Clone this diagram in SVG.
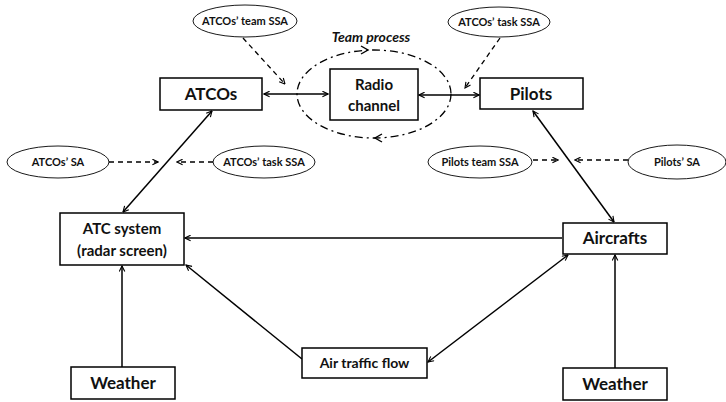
<svg xmlns="http://www.w3.org/2000/svg" width="726" height="402" viewBox="0 0 726 402">
<style>
.box{fill:#fff;stroke:#000;stroke-width:1.5}
.ell{fill:#fff;stroke:#000;stroke-width:0.9}
.t{font-family:Lato,"Open Sans","Liberation Sans",sans-serif;font-weight:bold;fill:#111;text-anchor:middle}
.big{font-size:17px}
.mid{font-size:15px}
.sm{font-size:11px}
.ln{stroke:#000;stroke-width:1.5;fill:none}
.dash{stroke:#000;stroke-width:1.3;fill:none;stroke-dasharray:5,4}
</style>
<defs>
<marker id="ah" viewBox="0 0 10 10" refX="9" refY="5" markerWidth="7" markerHeight="7" markerUnits="userSpaceOnUse" orient="auto-start-reverse">
<path d="M1,1 L9,5 L1,9" fill="none" stroke="#000" stroke-width="1.6"/>
</marker>
</defs>
<rect width="726" height="402" fill="#fff"/>
<g id="connectors">
<line class="ln" x1="264" y1="94" x2="328" y2="94" marker-start="url(#ah)" marker-end="url(#ah)"/>
<line class="ln" x1="419" y1="95" x2="479" y2="95" marker-start="url(#ah)" marker-end="url(#ah)"/>
<line class="ln" x1="212" y1="111" x2="123" y2="212" marker-start="url(#ah)" marker-end="url(#ah)"/>
<line class="ln" x1="533" y1="111" x2="614" y2="222" marker-start="url(#ah)" marker-end="url(#ah)"/>
<line class="ln" x1="562" y1="238" x2="185" y2="238" marker-end="url(#ah)"/>
<line class="ln" x1="122" y1="367" x2="122" y2="266" marker-end="url(#ah)"/>
<line class="ln" x1="615" y1="368" x2="615" y2="255" marker-end="url(#ah)"/>
<line class="ln" x1="302" y1="359" x2="186" y2="265" marker-end="url(#ah)"/>
<line class="ln" x1="428" y1="362" x2="568" y2="255" marker-start="url(#ah)" marker-end="url(#ah)"/>
<line class="dash" x1="243" y1="38" x2="285" y2="84" marker-end="url(#ah)"/>
<line class="dash" x1="500" y1="38" x2="465" y2="88" marker-end="url(#ah)"/>
<line class="dash" x1="109" y1="162" x2="158" y2="162" marker-end="url(#ah)"/>
<line class="dash" x1="213" y1="162" x2="177" y2="162" marker-end="url(#ah)"/>
<line class="dash" x1="533" y1="160" x2="558" y2="160" marker-end="url(#ah)"/>
<line class="dash" x1="628" y1="160" x2="575" y2="160" marker-end="url(#ah)"/>
</g>
<g id="team-process">
<ellipse cx="374" cy="94" rx="77" ry="44" fill="none" stroke="#000" stroke-width="1.3" stroke-dasharray="8,4,2,4"/>
<path d="M361,46 L368,50 L361,54" fill="none" stroke="#000" stroke-width="1.4"/>
<path d="M382,134 L375,138 L382,142" fill="none" stroke="#000" stroke-width="1.4"/>
<text x="371" y="42" class="t" font-size="14" font-style="italic">Team process</text>
</g>
<g id="atcos"><rect class="box" x="160" y="78" width="102" height="32"/><text x="211" y="100" class="t big">ATCOs</text></g>
<g id="radio"><rect class="box" x="330" y="69" width="88" height="51"/><text x="374" y="90" class="t mid">Radio</text><text x="374" y="111" class="t mid">channel</text></g>
<g id="pilots"><rect class="box" x="480" y="78" width="103" height="31"/><text x="531" y="100" class="t big">Pilots</text></g>
<g id="atc"><rect class="box" x="60" y="213" width="124" height="52"/><text x="122" y="234" class="t mid">ATC system</text><text x="122" y="256" class="t mid">(radar screen)</text></g>
<g id="aircrafts"><rect class="box" x="563" y="223" width="104" height="31"/><text x="615" y="244" class="t big">Aircrafts</text></g>
<g id="weather-left"><rect class="box" x="71" y="367" width="104" height="32"/><text x="123" y="389" class="t big">Weather</text></g>
<g id="weather-right"><rect class="box" x="563" y="368" width="104" height="32"/><text x="615" y="390" class="t big">Weather</text></g>
<g id="air-traffic"><rect class="box" x="302" y="348" width="125" height="30"/><text x="364.5" y="368" class="t" font-size="14">Air traffic flow</text></g>
<g id="atcos-team-ssa"><ellipse class="ell" cx="245" cy="21" rx="52" ry="16"/><text x="245" y="25" class="t sm">ATCOs’ team SSA</text></g>
<g id="atcos-task-ssa-top"><ellipse class="ell" cx="499" cy="22" rx="51" ry="15"/><text x="499" y="26" class="t sm">ATCOs’ task SSA</text></g>
<g id="atcos-sa"><ellipse class="ell" cx="58" cy="162" rx="51" ry="16"/><text x="58" y="166" class="t sm">ATCOs’ SA</text></g>
<g id="atcos-task-ssa"><ellipse class="ell" cx="264" cy="162" rx="51" ry="16"/><text x="264" y="166" class="t sm">ATCOs’ task SSA</text></g>
<g id="pilots-team-ssa"><ellipse class="ell" cx="480" cy="162" rx="52" ry="16"/><text x="480" y="166" class="t sm">Pilots team SSA</text></g>
<g id="pilots-sa"><ellipse class="ell" cx="677" cy="162" rx="49" ry="17"/><text x="677" y="166" class="t sm">Pilots’ SA</text></g>
</svg>
